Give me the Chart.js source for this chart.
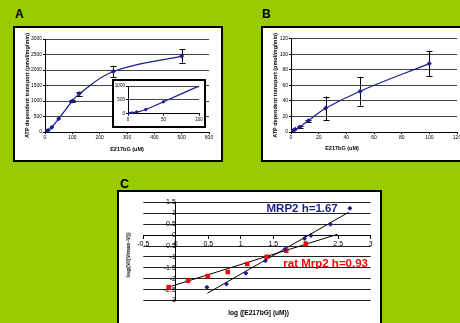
<!DOCTYPE html>
<html><head><meta charset="utf-8">
<script src="https://cdn.jsdelivr.net/npm/chart.js@4.4.1/dist/chart.umd.min.js"></script>
<style>
html,body{margin:0;padding:0;background:#99cc00;width:460px;height:323px;overflow:hidden;font-family:'Liberation Sans',Arial,sans-serif;}
.box{position:absolute;background:#fff;border:2px solid #000;box-sizing:border-box;}
canvas{position:absolute;}
.lbl{position:absolute;font-weight:bold;line-height:1;white-space:nowrap;color:#000;}
.ctr{transform:translate(-50%,-50%);}
.rot{transform:translate(-50%,-50%) rotate(-90deg);}
.vc{transform:translateY(-50%);}
</style></head><body>
<div class="lbl" style="left:15px;top:8px;font-size:12px">A</div>
<div class="lbl" style="left:262px;top:8px;font-size:12px">B</div>
<div class="lbl" style="left:120px;top:177.5px;font-size:12.5px">C</div>

<div class="box" style="left:13px;top:26px;width:210px;height:136px"></div>
<canvas id="cA" width="206" height="132" style="left:15px;top:28px"></canvas>
<div class="box" style="left:112px;top:79px;width:94px;height:49px"></div>
<canvas id="cAin" width="91" height="45" style="left:114px;top:81px"></canvas>

<div class="box" style="left:261px;top:26px;width:210px;height:136px"></div>
<canvas id="cB" width="205" height="132" style="left:263px;top:28px"></canvas>
<div class="lbl ctr" style="left:342px;top:149px;font-size:5.5px">E217bG (uM)</div>

<div class="box" style="left:117px;top:190px;width:265px;height:140px"></div>
<canvas id="cC" width="261" height="132" style="left:119px;top:192px"></canvas>
<div class="lbl rot" style="left:128.3px;top:255px;font-size:6px">log(V/(Vmax-V))</div>
<div class="lbl ctr" style="left:258.6px;top:312.7px;font-size:6.6px">log ([E217bG] (uM))</div>
<div class="lbl vc" id="tM" style="left:266.5px;top:208.7px;font-size:11.5px;color:#1c1c8c"></div>
<div class="lbl vc" id="tR" style="left:283.3px;top:263.5px;font-size:11.5px;color:#ff0000"></div>

<script>
// ---------- Panel A (MRP2) ----------
const concA = [0, 3, 6, 12, 25, 50, 100, 125, 250, 500];
const rateA = [0, 10, 25, 60, 150, 430, 1000, 1230, 1950, 2450];
const errA  = [0, 0, 0, 0, 0, 0, 30, 70, 190, 215];
const insetMaxA = 100;
// ---------- Panel B (rat Mrp2) ----------
const concB = [0, 0.78, 1.56, 3.125, 6.25, 12.5, 25, 50, 100];
const rateB = [0, 1, 2, 3.5, 6.5, 14.5, 30.5, 52.5, 88];
const errB  = [0, 0, 0, 0, 1, 1.5, 15, 18.5, 16.5];
// ---------- Panel C (Hill plots) ----------
const logConcMRP2  = [0.48, 0.78, 1.08, 1.38, 1.68, 1.98, 2.08, 2.38, 2.68];
const logRatioMRP2 = [-2.39, -2.24, -1.75, -1.17, -0.65, -0.15, -0.02, 0.5, 1.24];
const logConcRat   = [-0.11, 0.19, 0.49, 0.8, 1.1, 1.4, 1.7, 2.0];
const logRatioRat  = [-2.39, -2.09, -1.87, -1.69, -1.32, -0.99, -0.71, -0.41];
const fitMRP2X = [0.485, 2.66], fitMRP2Y = [-2.67, 1.05];
const fitRatX  = [-0.14, 2.49], fitRatY  = [-2.41, 0.04];
const labelMRP2 = 'MRP2 h=1.67';
const labelRat  = 'rat Mrp2 h=0.93';
const yTitleAB = 'ATP dependent transport (pmol/mg/min)';
const xTitleAB = 'E217bG (uM)';

document.getElementById('tM').textContent = labelMRP2;
document.getElementById('tR').textContent = labelRat;

const NAVY = '#1c1c8c';
const FONT = 'Liberation Sans';
const pts = (xs, ys) => xs.map((x, i) => ({x, y: ys[i]}));
const fmt = v => String(Math.round(v * 10) / 10);

const errorBars = {
  id: 'errorBars',
  beforeDatasetsDraw(chart) {
    const {ctx} = chart;
    chart.data.datasets.forEach(ds => {
      if (!ds.errors) return;
      const xs = chart.scales.x, ys = chart.scales.y;
      ctx.save();
      ctx.strokeStyle = '#000'; ctx.lineWidth = 1;
      ds.data.forEach((p, j) => {
        const e = ds.errors[j]; if (!e) return;
        const x = Math.round(xs.getPixelForValue(p.x)) + 0.5;
        const y1 = ys.getPixelForValue(p.y + e), y2 = ys.getPixelForValue(p.y - e);
        const w = 3;
        ctx.beginPath();
        ctx.moveTo(x, y1); ctx.lineTo(x, y2);
        ctx.moveTo(x - w, Math.round(y1) + 0.5); ctx.lineTo(x + w, Math.round(y1) + 0.5);
        ctx.moveTo(x - w, Math.round(y2) + 0.5); ctx.lineTo(x + w, Math.round(y2) + 0.5);
        ctx.stroke();
      });
      ctx.restore();
    });
  }
};

function tickFont(s) { return {family: FONT, size: s}; }
const baseOpts = {responsive: false, animation: false, events: [],
  plugins: {legend: {display: false}, tooltip: {enabled: false}}};

function xyChart(id, xs, ys, errs, o) {
  return new Chart(document.getElementById(id), {
    type: 'scatter',
    data: {datasets: [{data: pts(xs, ys), errors: errs, showLine: true, borderColor: NAVY,
      backgroundColor: NAVY, borderWidth: 1.2, tension: 0.4, pointStyle: 'rectRot',
      pointRadius: o.pr, pointBorderWidth: 0}]},
    options: Object.assign({}, baseOpts, {
      layout: {padding: o.pad},
      scales: {
        x: {type: 'linear', min: 0, max: o.xmax,
          ticks: {stepSize: o.xstep, font: tickFont(o.tf), color: '#000', padding: 1, maxRotation: 0,
            autoSkip: false, callback: fmt},
          grid: {drawOnChartArea: false, tickLength: 2, tickColor: '#000'},
          border: {color: '#000'},
          title: {display: !!o.xtitle, text: o.xtitle || '', color: '#000',
            font: {family: FONT, size: 5.5, weight: 'bold'}, padding: {top: 0, bottom: 7.7}},
          afterFit: s => { s.height = o.xh; }},
        y: {type: 'linear', min: 0, max: o.ymax,
          ticks: {stepSize: o.ystep, font: tickFont(o.tf), color: '#000', padding: 1,
            autoSkip: false, callback: fmt},
          grid: {color: '#444', tickLength: 2, tickColor: '#000'},
          border: {color: '#000'},
          title: {display: !!o.ytitle, text: o.ytitle || '', color: '#000',
            font: {family: FONT, size: 5.5, weight: 'bold'}, padding: {top: 9, bottom: 0}},
          afterFit: s => { s.width = o.yw; }}
      }
    }),
    plugins: [errorBars]
  });
}

xyChart('cA', concA, rateA, errA, {pr: 2.5, tf: 5, pad: {top: 11, right: 12, bottom: 0, left: 0},
  xmax: 600, xstep: 100, ymax: 3000, ystep: 500, xh: 28, yw: 30, xtitle: xTitleAB, ytitle: yTitleAB});

const inIdx = concA.map((c, i) => i).filter(i => concA[i] <= insetMaxA);
xyChart('cAin', inIdx.map(i => concA[i]), inIdx.map(i => rateA[i]), null,
  {pr: 2, tf: 4.6, pad: {top: 5, right: 6, bottom: 0, left: 0},
   xmax: 100, xstep: 50, ymax: 1000, ystep: 500, xh: 12.3, yw: 14});

xyChart('cB', concB, rateB, errB, {pr: 2.5, tf: 5, pad: {top: 10.7, right: 11, bottom: 0, left: 0},
  xmax: 120, xstep: 20, ymax: 120, ystep: 20, xh: 28, yw: 28, ytitle: yTitleAB});

// Panel C
new Chart(document.getElementById('cC'), {
  type: 'scatter',
  data: {datasets: [
    {data: pts(logConcMRP2, logRatioMRP2), pointStyle: 'rectRot', pointRadius: 2.5,
      backgroundColor: NAVY, borderColor: NAVY, pointBorderWidth: 0},
    {data: pts(logConcRat, logRatioRat), pointStyle: 'rect', pointRadius: 3.2,
      backgroundColor: '#ff0000', borderColor: '#ff0000', pointBorderWidth: 0},
    {data: pts(fitMRP2X, fitMRP2Y), showLine: true, pointRadius: 0, borderColor: '#000', borderWidth: 1},
    {data: pts(fitRatX, fitRatY), showLine: true, pointRadius: 0, borderColor: '#000', borderWidth: 1}
  ]},
  options: Object.assign({}, baseOpts, {
    layout: {padding: {left: 24.3, top: 10.5, right: 9.3, bottom: 23.5}},
    scales: {
      x: {type: 'linear', min: -0.5, max: 3, position: {y: 0},
        ticks: {stepSize: 0.5, font: tickFont(7), color: '#000', padding: 2, maxRotation: 0,
          autoSkip: false, callback: fmt},
        grid: {drawOnChartArea: false, tickLength: 3, tickColor: '#000'},
        border: {color: '#000'}},
      y: {type: 'linear', min: -3, max: 1.5, position: {x: 0},
        ticks: {stepSize: 0.5, font: tickFont(7), color: '#000', padding: 2, autoSkip: false, callback: fmt},
        grid: {color: '#222', tickLength: 3, tickColor: '#000'},
        border: {color: '#000'}}
    }
  })
});
</script>
</body></html>
